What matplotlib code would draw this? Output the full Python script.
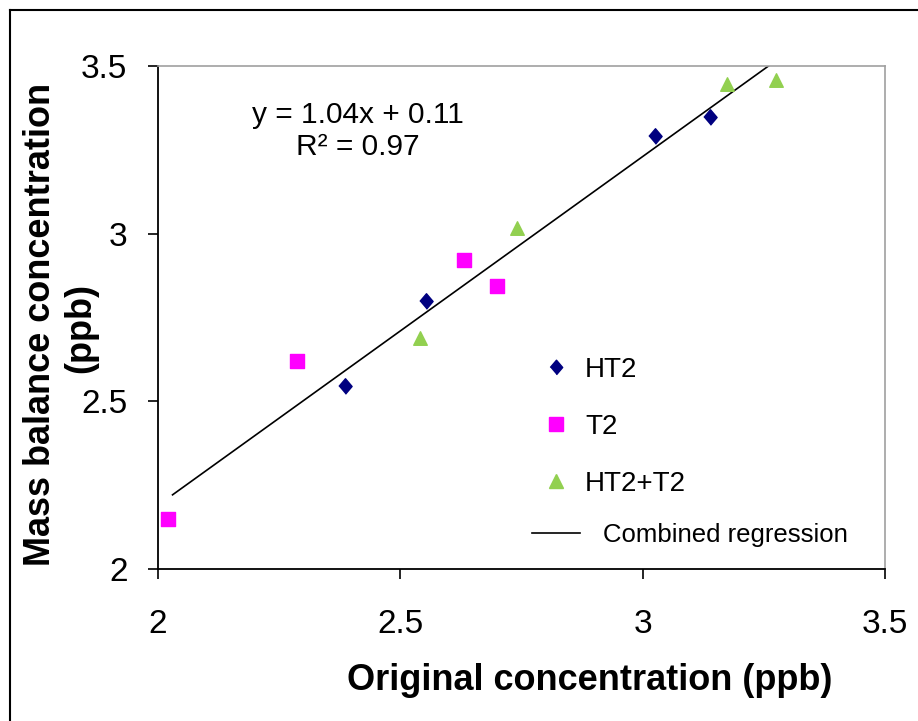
import numpy as np
import matplotlib
matplotlib.use('Agg')
import matplotlib.pyplot as plt
from matplotlib.lines import Line2D

# data
ht2_x = [2.386, 2.553, 3.025, 3.139]
ht2_y = [2.546, 2.799, 3.291, 3.348]
t2_x = [2.021, 2.287, 2.631, 2.699]
t2_y = [2.149, 2.620, 2.922, 2.844]
mix_x = [2.541, 2.741, 3.174, 3.275]
mix_y = [2.689, 3.017, 3.446, 3.458]
slope, intercept = 1.04, 0.11
xticks = [2, 2.5, 3, 3.5]
yticks = [2, 2.5, 3, 3.5]
ticklabels = ['2', '2.5', '3', '3.5']

plt.rcParams['font.family'] = ['Liberation Sans', 'DejaVu Sans']

navy, pink, green = '#000080', '#FF00FF', '#92D050'
diamond = [(0, -1), (0.85, 0), (0, 1), (-0.85, 0)]

fig = plt.figure(figsize=(9.18, 7.21), dpi=100)
ax = fig.add_axes([158/918, 1-569/721, (885-158)/918, (569-66)/721])

ax.scatter(ht2_x, ht2_y, marker=diamond, s=125, color=navy, zorder=3)
ax.scatter(t2_x, t2_y, marker='s', s=88, color=pink, zorder=3)
ax.scatter(mix_x, mix_y, marker='^', s=95, color=green, zorder=3)

lx = np.array([2.03, max(ht2_x + t2_x + mix_x)])
ax.plot(lx, slope*lx + intercept, color='black', lw=1.2, zorder=2)

ax.set_xlim(2, 3.5)
ax.set_ylim(2, 3.5)
ax.set_xticks(xticks)
ax.set_yticks(yticks)
ax.set_xticklabels(ticklabels)
ax.set_yticklabels(ticklabels)
ax.tick_params(direction='out', length=7, width=1.2, labelsize=24)
ax.tick_params(axis='x', pad=22)
ax.tick_params(axis='y', pad=15)
for s in ['left', 'bottom']:
    ax.spines[s].set_linewidth(1.3)
    ax.spines[s].set_color('black')
for s in ['top', 'right']:
    ax.spines[s].set_linewidth(1.2)
    ax.spines[s].set_color('#A0A0A0')

fig.text(589.5/918, 1-680/721, 'Original concentration (ppb)', fontsize=26,
         fontweight='bold', ha='center', va='center')
# y label, two lines
fig.text(41/918, 1-324/721, 'Mass balance concentration', fontsize=26,
         fontweight='bold', ha='center', va='center', rotation=90)
fig.text(81/918, 1-328/721, '(ppb)', fontsize=26,
         fontweight='bold', ha='center', va='center', rotation=90)

ax.text(2.4127, 3.306, 'y = 1.04x + 0.11\nR² = 0.97', ha='center', va='center',
        fontsize=21.5, linespacing=1.2)

h1 = [
    Line2D([], [], marker=diamond, ls='none', color=navy, markersize=10.5),
    Line2D([], [], marker='s', ls='none', color=pink, markersize=9.4),
    Line2D([], [], marker='^', ls='none', color=green, markersize=9.7),
]
leg1 = ax.legend(h1, ['HT2', 'T2', 'HT2+T2'], loc='upper left', bbox_to_anchor=(0.5282, 0.4215),
                 frameon=False, fontsize=20, handlelength=1.0, handletextpad=0.55,
                 labelspacing=1.12, borderpad=0, borderaxespad=0)
ax.add_artist(leg1)
h2 = [Line2D([], [], color='black', lw=1.2)]
ax.legend(h2, ['Combined regression'], loc='center left', bbox_to_anchor=(0.5144, 0.0676),
          frameon=False, fontsize=18.5, handlelength=1.87, handletextpad=0.9,
          borderpad=0, borderaxespad=0)

# outer frame (left and top visible)
fig.add_artist(Line2D([10/918, 10/918], [1-10/721, 0], color='black', lw=1.5, transform=fig.transFigure))
fig.add_artist(Line2D([10/918, 1], [1-10/721, 1-10/721], color='black', lw=1.5, transform=fig.transFigure))

fig.savefig('out.png', dpi=100)
